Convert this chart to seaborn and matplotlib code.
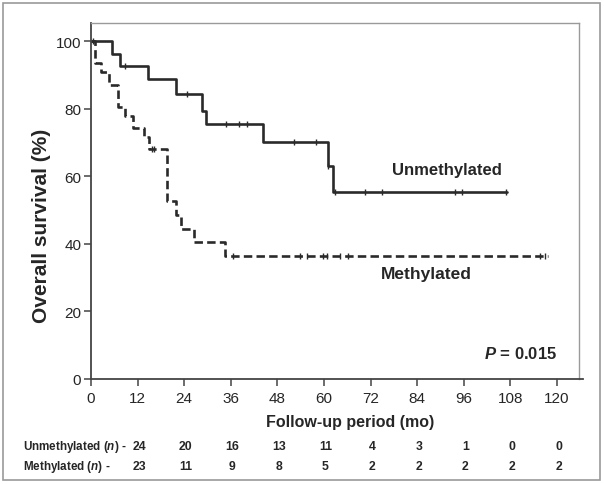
import numpy as np
import pandas as pd
import matplotlib
matplotlib.use("Agg")
import matplotlib.pyplot as plt
import seaborn as sns
from matplotlib.patches import Rectangle

# Kaplan-Meier steps (months, % surviving)
unmeth_t = [0, 5.3, 7.5, 14.8, 21.9, 28.7, 29.6, 44.2, 61.1, 62.4, 107.0]
unmeth_s = [100, 96.3, 92.5, 88.8, 84.3, 79.4, 75.4, 70.2, 63.1, 55.2, 55.2]
unmeth_cens_t = [0.6, 8.8, 24.6, 34.7, 38.2, 40.1, 52.4, 57.9, 61.1, 62.9, 70.6, 74.9, 93.7, 95.5, 106.8]
unmeth_cens_s = [100, 92.5, 84.3, 75.4, 75.4, 75.4, 70.2, 70.2, 63.1, 55.2, 55.2, 55.2, 55.2, 55.2, 55.2]

meth_t = [0, 1.0, 2.6, 4.7, 7.0, 8.8, 10.9, 13.6, 15.0, 19.5, 21.9, 23.3, 26.6, 34.5, 117.7]
meth_s = [100, 93.4, 90.7, 87.1, 80.4, 77.9, 74.4, 71.5, 68.0, 52.7, 48.6, 44.4, 40.4, 36.3, 36.3]
meth_cens_t = [15.6, 16.3, 36.6, 53.8, 55.5, 59.8, 60.7, 64.1, 66.3, 115.6, 116.9]
meth_cens_s = [68.0, 68.0, 36.3, 36.3, 36.3, 36.3, 36.3, 36.3, 36.3, 36.3, 36.3]

x_ticks = [0, 12, 24, 36, 48, 60, 72, 84, 96, 108, 120]
y_ticks = [0, 20, 40, 60, 80, 100]

risk_t = [12, 24, 36, 48, 60, 72, 84, 96, 108, 120]
risk_unmeth = [24, 20, 16, 13, 11, 4, 3, 1, 0, 0]
risk_meth = [23, 11, 9, 8, 5, 2, 2, 2, 2, 2]

sns.set_style("ticks")
plt.rcParams['font.family'] = ['Liberation Sans', 'DejaVu Sans']
plt.rcParams['mathtext.fontset'] = 'custom'
plt.rcParams['mathtext.rm'] = 'Liberation Sans:bold'
plt.rcParams['mathtext.it'] = 'Liberation Sans:italic:bold'

W, H = 604, 485
fig = plt.figure(figsize=(W / 100, H / 100), dpi=100)
ax = fig.add_axes([91 / W, 1 - 380 / H, (579 - 91) / W, (380 - 24) / H])

ink = '#2a2a2a'
df_u = pd.DataFrame({'t': unmeth_t, 's': unmeth_s})
df_m = pd.DataFrame({'t': meth_t, 's': meth_s})
sns.lineplot(data=df_u, x='t', y='s', ax=ax, color=ink, lw=1.9,
             drawstyle='steps-post', estimator=None, sort=False)
sns.lineplot(data=df_m, x='t', y='s', ax=ax, color=ink, lw=1.9,
             drawstyle='steps-post', estimator=None, sort=False,
             linestyle=(0, (3.2, 1.6)))
sns.scatterplot(x=unmeth_cens_t, y=unmeth_cens_s, ax=ax, marker='|', s=22,
                color=ink, linewidth=1.0, zorder=5)
sns.scatterplot(x=meth_cens_t, y=meth_cens_s, ax=ax, marker='|', s=22,
                color=ink, linewidth=1.0, zorder=5)

ax.set_xlim(0, 125.67)
ax.set_ylim(0, 105.33)
ax.set_xticks(x_ticks)
ax.set_yticks(y_ticks)
ax.tick_params(axis='both', labelsize=11, length=5, width=1.1, color='#444444', pad=2)
ax.tick_params(axis='x', pad=4)
for side in ['left', 'bottom']:
    ax.spines[side].set_color('#444444')
    ax.spines[side].set_linewidth(1.3)
for side in ['top', 'right']:
    ax.spines[side].set_visible(True)
    ax.spines[side].set_color('#9a9a9a')
    ax.spines[side].set_linewidth(1.0)
ax.spines['bottom'].set_bounds(0, 126.7)

ax.set_xlabel('Follow-up period (mo)', fontsize=11.5, fontweight='bold')
ax.xaxis.set_label_coords((350 - 91) / 488, (380 - 415) / 356)
ax.set_ylabel('')
fig.text(42 / W, 1 - 226 / H, 'Overall survival (%)', rotation=90, ha='center', va='center',
         fontsize=15, fontweight='bold')

ax.text(77.5, 62.1, 'Unmethylated', fontsize=12, fontweight='bold', va='center', ha='left')
ax.text(74.7, 31.1, 'Methylated', fontsize=12.5, fontweight='bold', va='center', ha='left')
ax.text(101.2, 7.7, r'$\it{P}$ = 0.015', fontsize=12, fontweight='bold', va='center', ha='left')

tr = ax.get_xaxis_transform()
fig.text(23 / W, 1 - 447 / H, r'Unmethylated ($\it{n}$) -', fontsize=8.4, fontweight='bold',
         va='center', ha='left')
fig.text(23 / W, 1 - 467 / H, r'Methylated ($\it{n}$) -', fontsize=8.4, fontweight='bold',
         va='center', ha='left')
for t, a, b in zip(risk_t, risk_unmeth, risk_meth):
    ax.text(t + 0.4, (380 - 447) / 356, str(a), transform=tr, fontsize=8.8, fontweight='bold',
            ha='center', va='center')
    ax.text(t + 0.4, (380 - 467) / 356, str(b), transform=tr, fontsize=8.8, fontweight='bold',
            ha='center', va='center')

fig.patches.append(Rectangle((3 / W, 4 / H), 597 / W, 477 / H, transform=fig.transFigure,
                             fill=False, edgecolor='#9a9a9a', lw=1.2))

fig.savefig('out.png', dpi=100)
